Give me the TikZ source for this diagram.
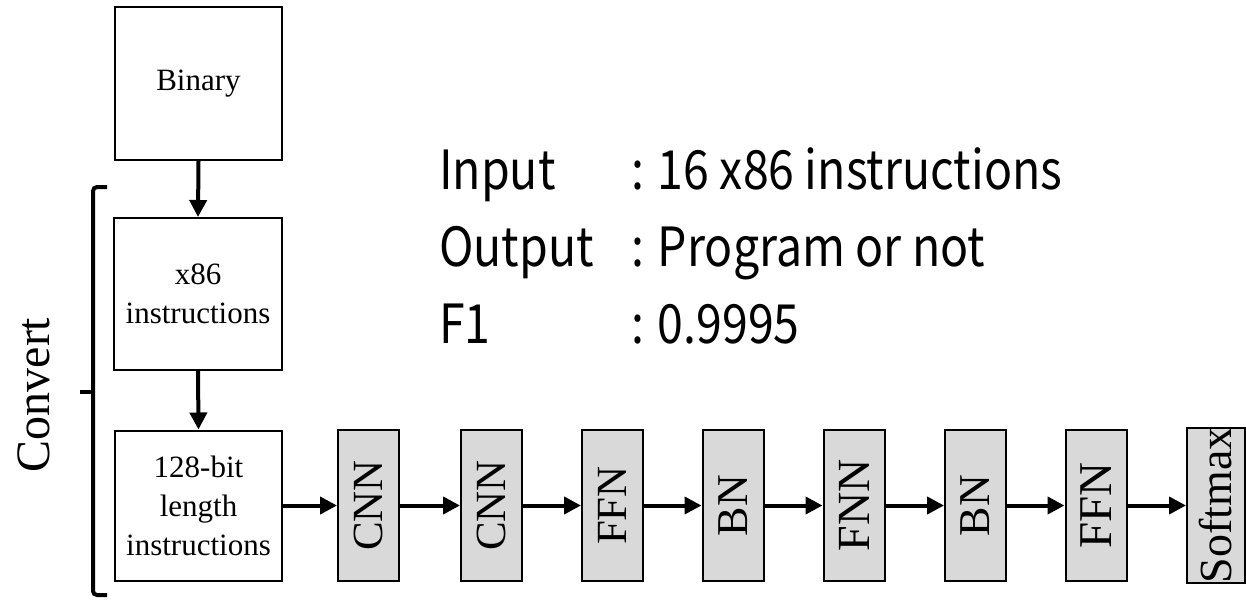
\documentclass[tikz,border=0pt]{standalone}
\usepackage{fontspec}
\setmainfont{Liberation Serif}
\newfontfamily\infofont[FakeStretch=0.86]{Noto Sans CJK JP}
\usetikzlibrary{arrows.meta}
\definecolor{layergray}{HTML}{D9D9D9}
\begin{document}
\begin{tikzpicture}[x=1pt,y=-1pt,
  blk/.style={draw, line width=2pt, fill=white, align=center, inner sep=0pt,
    font=\fontsize{31}{39}\selectfont},
  layer/.style={draw, line width=2pt, fill=layergray, minimum width=61pt,
    minimum height=151pt, inner sep=0pt},
  flow/.style={line width=4pt, -{Triangle[length=17pt,width=17pt]}},
  info/.style={font=\infofont\fontsize{54}{54}\selectfont, anchor=base west, inner sep=0pt},
  brace/.style={line width=4pt, rounded corners=4pt}]

\useasboundingbox (0,0) rectangle (1246,599);
\clip (0,0) rectangle (1246,599);

% heading line running off the top edge
\node[info] (h1) at (365,-16) {(e.g.,};
\node[info] (h2) at (686,-16) {,};
\node[info] (h3) at (922,-14) {L};

% conversion chain
\node[blk, minimum width=167pt, minimum height=153pt] (bin) at (198.5,83.5) {Binary};
\node[blk, minimum width=168pt, minimum height=152pt] (x86) at (198,294) {x86\\instructions};
\node[blk, minimum width=167pt, minimum height=150pt] (enc) at (198.5,505.5) {128-bit\\length\\instructions};

\draw[flow] (bin.south) -- (x86.north);
\draw[flow] (x86.south) -- (enc.north);

% brace grouping the conversion steps
\coordinate (bt) at (107,187);
\coordinate (bb) at (107,595);
\coordinate (bm) at (93,392);
\coordinate (bk) at (80,392);
\draw[brace] (bt) -- (93,187) -- (93,595) -- (bb);
\draw[line width=4pt] (bm) -- (bk);
\node[rotate=90, font=\fontsize{48}{48}\selectfont, inner sep=0pt] (conv) at (34,395) {Convert};

% network layers
\node[layer] (l1) at (368.5,505.5) {\rotatebox{90}{\fontsize{43}{43}\selectfont CNN}};
\node[layer] (l2) at (491.5,505.5) {\rotatebox{90}{\fontsize{43}{43}\selectfont CNN}};
\node[layer] (l3) at (612.5,505.5) {\rotatebox{90}{\fontsize{43}{43}\selectfont FFN}};
\node[layer] (l4) at (733,505.5) {\rotatebox{90}{\fontsize{44}{44}\selectfont BN}};
\node[layer] (l5) at (854,505.5) {\rotatebox{90}{\fontsize{46}{46}\selectfont FNN}};
\node[layer] (l6) at (975.5,505.5) {\rotatebox{90}{\fontsize{44}{44}\selectfont BN}};
\node[layer] (l7) at (1096,505.5) {\rotatebox{90}{\fontsize{47}{47}\selectfont FFN}};
\node[layer, minimum width=58pt] (l8) at (1216,505.5) {\rotatebox{90}{\fontsize{46}{46}\selectfont Softmax}};

\draw[flow] (enc.east) -- (l1.west);
\draw[flow] (l1.east) -- (l2.west);
\draw[flow] (l2.east) -- (l3.west);
\draw[flow] (l3.east) -- (l4.west);
\draw[flow] (l4.east) -- (l5.west);
\draw[flow] (l5.east) -- (l6.west);
\draw[flow] (l6.east) -- (l7.west);
\draw[flow] (l7.east) -- (l8.west);

% summary
\node[info] (k1) at (439,189) {Input};
\node[info] (k2) at (439,266.5) {Output};
\node[info] (k3) at (439,343) {F1};
\node[info] (v1) at (631,189) {: 16 x86 instructions};
\node[info] (v2) at (631,266.5) {: Program or not};
\node[info] (v3) at (631,343) {: 0.9995};
\end{tikzpicture}
\end{document}
